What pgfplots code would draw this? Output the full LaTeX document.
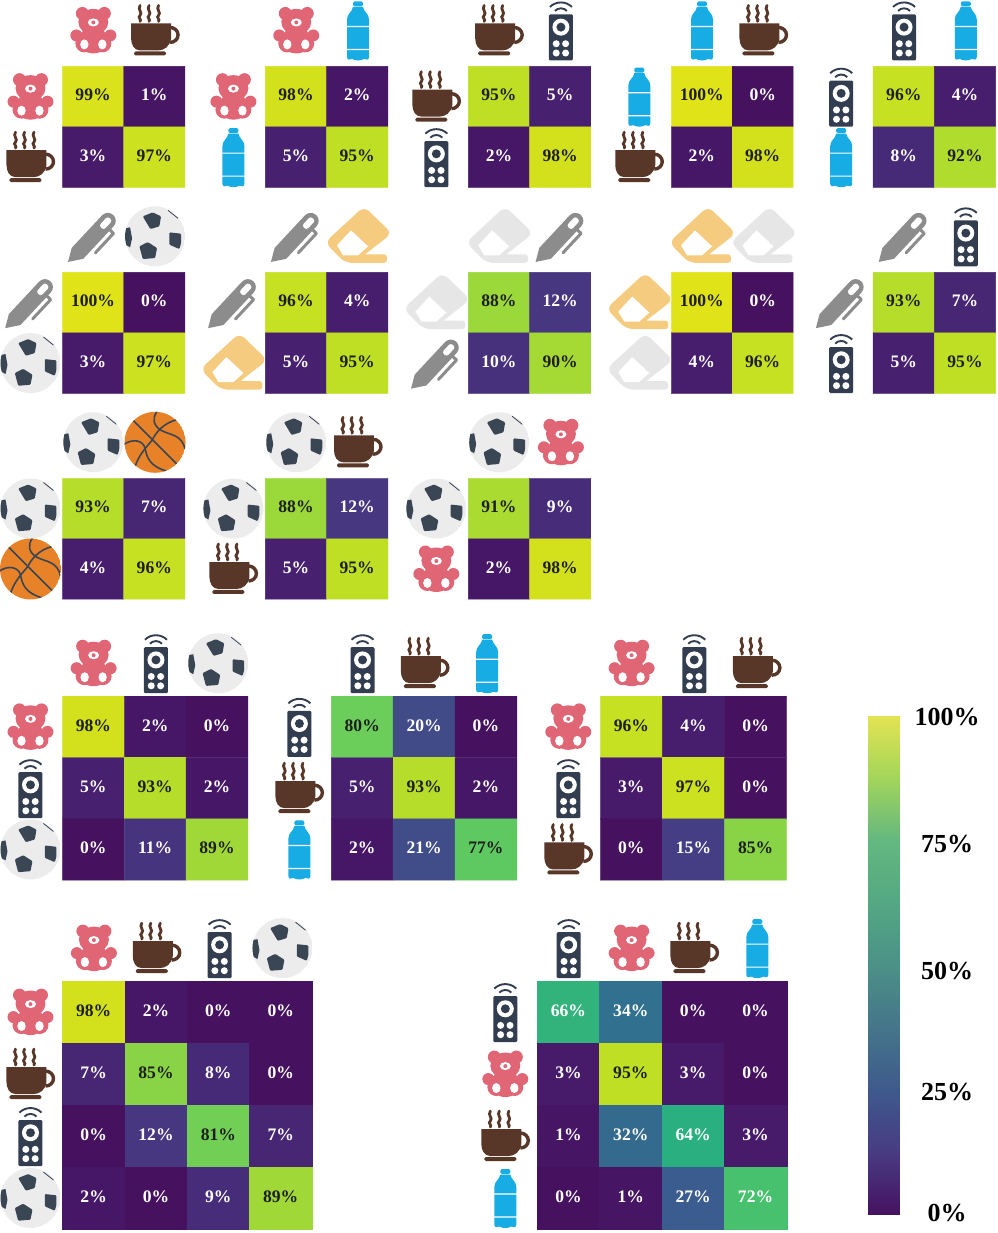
\documentclass[border=0pt]{standalone}
\usepackage{pgfplots}
\pgfplotsset{compat=1.18}
\usepackage{fontspec}
\setmainfont{Liberation Serif}

\definecolor{txtdark}{RGB}{30,30,30}
\definecolor{tedcol}{RGB}{224,102,118}
\definecolor{cupcol}{RGB}{88,54,40}
\definecolor{remcol}{RGB}{50,62,80}
\definecolor{botcol}{RGB}{24,172,228}
\definecolor{pencol}{RGB}{140,140,140}
\definecolor{ballcol}{RGB}{236,236,237}
\definecolor{patchcol}{RGB}{58,70,84}
\definecolor{bbcol}{RGB}{232,130,40}
\definecolor{ergray}{RGB}{230,230,230}
\definecolor{ertan}{RGB}{245,203,128}

\pgfplotsset{
  colormap={cells}{
    rgb255(0)=(70,18,96) rgb255(3)=(71,26,106) rgb255(12)=(71,55,129)
    rgb255(27)=(59,92,143) rgb255(34)=(49,112,142) rgb255(50)=(33,145,140)
    rgb255(64)=(41,175,128) rgb255(72)=(72,193,110) rgb255(80)=(108,206,90)
    rgb255(88)=(155,216,58) rgb255(95)=(191,223,36) rgb255(100)=(224,227,24)
  },
  colormap={bar}{
    rgb255(0)=(70,18,96) rgb255(12)=(72,58,130) rgb255(25)=(62,90,140)
    rgb255(50)=(75,145,135) rgb255(64)=(85,170,130) rgb255(75)=(99,183,127)
    rgb255(88)=(165,214,90) rgb255(100)=(227,227,82)
  },
}

% icons, drawn around the origin, 1pt = 1 pixel of the reference
\newcommand\icteddy{%
  \fill[tedcol] (-11,17) circle (6.5) (11,17) circle (6.5)
    (0,8.5) ellipse (15 and 13) (0,-10) ellipse (15 and 13)
    (-17,-5) circle (6) (17,-5) circle (6)
    (-9,-13) circle (9) (9,-13) circle (9);
  \fill[white] (0,8) ellipse (5.5 and 4)
    (-9,-14) ellipse (4.2 and 5) (9,-14) ellipse (4.2 and 5);
  \fill[tedcol] (0,8) circle (2);
}
\newcommand\iccup{%
  \draw[cupcol,line width=3.4] (15,3) arc (90:-90:8 and 7.5);
  \fill[cupcol] (-24,7) -- (16,7) -- (16,-8) .. controls (15,-16) and (9,-20) .. (3,-20)
    -- (-15,-20) .. controls (-21,-20) and (-24,-14) .. (-24,-8) -- cycle;
  \fill[cupcol,rounded corners=1.5] (-21,-21) rectangle (11,-25);
  \foreach \s in {-15,-6,3.5}{
    \draw[cupcol,line width=2.8,line cap=round] (\s,25) .. controls (\s-3,21) and (\s+3,18) .. (\s,15)
      .. controls (\s-3,13) and (\s+2,11) .. (\s,9);
  }
}
\newcommand\icremote{%
  \fill[remcol,rounded corners=1.2] (-12,16) rectangle (12,-30);
  \fill[white] (0,3.3) circle (8.5);
  \fill[remcol] (0,3.3) circle (4.5);
  \fill[white] (-4.7,-13.3) circle (3.5) (4.7,-13.3) circle (3.5)
    (-4.7,-22.6) circle (3.5) (4.7,-22.6) circle (3.5);
  \draw[remcol,line width=1.9] (-11,23.5) .. controls (-5,29.5) and (5,29.5) .. (11,23.5);
  \draw[remcol,line width=1.9] (-6,19.5) .. controls (-3,23) and (3,23) .. (6,19.5);
}
\newcommand\icbottle{%
  \fill[botcol,rounded corners=1.5] (-5,29) rectangle (5,24);
  \fill[botcol] (-5,23.5) .. controls (-6,18) and (-11,17) .. (-11,11) -- (-11,-26.5)
    .. controls (-11,-29.5) and (-8,-30) .. (-6,-28.5) .. controls (-3,-30.5) and (3,-30.5) .. (6,-28.5)
    .. controls (8,-30) and (11,-29.5) .. (11,-26.5) -- (11,11)
    .. controls (11,17) and (6,18) .. (5,23.5) -- cycle;
  \fill[white] (-11.5,4.6) rectangle (11.5,3.4) (-11.5,-18.4) rectangle (11.5,-19.6);
}
\newcommand\icpen{%
  \begin{scope}[rotate=47,shift={(-1,0)},scale=1.06]
    \draw[pencol,line width=3,line cap=round,line join=round] (16,-7) -- (16,-12) -- (-9,-12);
    \fill[pencol] (-33,1) -- (-21,-7.5) -- (21,-7.5) arc (-90:90:7.5) -- (-21,7.5) -- cycle;
    \fill[white,rounded corners=2.5] (12,-3) rectangle (24,3);
  \end{scope}
}
\newcommand\icball{%
  \begin{scope}
    \clip (0,0) circle (30);
    \fill[ballcol] (0,0) circle (30);
    \fill[patchcol,rounded corners=1] (-12.3,20) -- (-2.3,24) -- (6,20) -- (4.3,10) -- (-4.7,7.3) -- cycle;
    \fill[patchcol,rounded corners=1] (14.3,4) -- (26,2.7) -- (26,-6.7) -- (24.3,-12.7) -- (14.3,-8.3) -- cycle;
    \fill[patchcol,rounded corners=1] (-15.7,-10) -- (-7.3,-5.7) -- (2,-11.7) -- (0,-21.7) -- (-12.3,-22.7) -- cycle;
    \fill[patchcol] (-30,8) -- (-25,9) -- (-23,-2) -- (-25,-11) -- (-30,-8) -- cycle;
    \draw[patchcol,line width=0.8] (13,26) -- (23,18);
  \end{scope}
}
\newcommand\icbasket{%
  \begin{scope}
    \clip (0,0) circle (30.5);
    \fill[bbcol] (0,0) circle (30.5);
    \begin{scope}[patchcol,line width=1.6]
      \draw (-22,22) -- (22,-22);
      \draw (22,22.7) .. controls (8,19) and (1,10) .. (-3,2) .. controls (-10,-6) and (-19,-16) .. (-21,-29);
      \draw (-31,-2) .. controls (-22,4) and (-12,2) .. (-10,-6) .. controls (-8,-16) and (-5,-24) .. (12,-29);
      \draw (2,31) .. controls (-3,24) and (-2,17) .. (6,12) .. controls (15,7) and (27,8) .. (30,-7);
    \end{scope}
  \end{scope}
}
\newcommand\iceraser[1]{%
  \fill[#1] (7,-18) [rounded corners=3] -- (29,-18) -- (29,-26.5) [rounded corners=7]
    -- (-13,-26.5) -- (-33,-6) -- (6,30) -- (34,3) [rounded corners=1] -- cycle;
  \fill[white] (-7,6) -- (10,-10) -- (0,-19) -- (-15,-19) -- (-21,-9) -- cycle;
}
\newcommand\icerasergray{\iceraser{ergray}}
\newcommand\icerasertan{\iceraser{ertan}}

% #1 x, #2 y of the top left corner; #3 n; #4 width; #5 height; #6 top offset; #7 icons; #8 data
\newcommand\cm[8]{%
  \begin{axis}[
    at={(#1pt,-#2pt)}, anchor=north west, scale only axis,
    width=#4pt, height=#5pt, hide axis, clip=false,
    xmin=-0.5, xmax=#3-0.5, ymin=-0.5, ymax=#3-0.5, y dir=reverse,
    colormap name=cells, point meta min=0, point meta max=100,
    /pgf/number format/assume math mode=true,
    nodes near coords={\ifdim\pgfplotspointmetatransformed pt>740pt\color{txtdark}\else\color{white}\fi
      \pgfmathprintnumber{\pgfplotspointmeta}\%},
    every node near coord/.append style={anchor=center, yshift=1.5pt,
      font=\fontsize{17.6}{17.6}\selectfont\bfseries},
  ]
    \addplot[matrix plot*, mesh/cols=#3, point meta=explicit]
      table[row sep=\\, meta=c] {x y c\\ #8};
  \end{axis}
  \foreach \ic [count=\k from 0] in {#7}{
    \pgfmathsetmacro\tx{#1+(#4/#3+0.5)*(\k+0.5)}
    \pgfmathsetmacro\ty{-#2+#6}
    \pgfmathsetmacro\lx{#1-32}
    \pgfmathsetmacro\ly{-#2-#5/#3*(\k+0.5)}
    \begin{scope}[shift={(\tx,\ty)}]\csname ic\ic\endcsname\end{scope}
    \begin{scope}[shift={(\lx,\ly)}]\csname ic\ic\endcsname\end{scope}
  }%
}

\begin{document}
\begin{tikzpicture}[x=1pt,y=1pt]
  \path (0,0) rectangle (997,-1233);
  % two classes
  \cm{62}{66}{2}{122.5}{121}{36}{teddy,cup}{0 0 99\\1 0 1\\0 1 3\\1 1 97\\}
  \cm{265}{66}{2}{122.5}{121}{36}{teddy,bottle}{0 0 98\\1 0 2\\0 1 5\\1 1 95\\}
  \cm{468}{66}{2}{122.5}{121}{36}{cup,remote}{0 0 95\\1 0 5\\0 1 2\\1 1 98\\}
  \cm{671}{66}{2}{122}{121}{36}{bottle,cup}{0 0 100\\1 0 0\\0 1 2\\1 1 98\\}
  \cm{873}{66}{2}{122.5}{121}{36}{remote,bottle}{0 0 96\\1 0 4\\0 1 8\\1 1 92\\}

  \cm{62}{272}{2}{122.5}{121}{36}{pen,ball}{0 0 100\\1 0 0\\0 1 3\\1 1 97\\}
  \cm{265}{272}{2}{122.5}{121}{36}{pen,erasertan}{0 0 96\\1 0 4\\0 1 5\\1 1 95\\}
  \cm{468}{272}{2}{122.5}{121}{36}{erasergray,pen}{0 0 88\\1 0 12\\0 1 10\\1 1 90\\}
  \cm{671}{272}{2}{122}{121}{36}{erasertan,erasergray}{0 0 100\\1 0 0\\0 1 4\\1 1 96\\}
  \cm{873}{272}{2}{122.5}{121}{36}{pen,remote}{0 0 93\\1 0 7\\0 1 5\\1 1 95\\}

  \cm{62}{478}{2}{122.5}{121}{36}{ball,basket}{0 0 93\\1 0 7\\0 1 4\\1 1 96\\}
  \cm{265}{478}{2}{122.5}{121}{36}{ball,cup}{0 0 88\\1 0 12\\0 1 5\\1 1 95\\}
  \cm{468}{478}{2}{122.5}{121}{36}{ball,teddy}{0 0 91\\1 0 9\\0 1 2\\1 1 98\\}

  % three classes
  \cm{62}{696}{3}{185.5}{184}{33}{teddy,remote,ball}{0 0 98\\1 0 2\\2 0 0\\0 1 5\\1 1 93\\2 1 2\\0 2 0\\1 2 11\\2 2 89\\}
  \cm{331}{696}{3}{185.5}{184}{33}{remote,cup,bottle}{0 0 80\\1 0 20\\2 0 0\\0 1 5\\1 1 93\\2 1 2\\0 2 2\\1 2 21\\2 2 77\\}
  \cm{600}{696}{3}{186.5}{184}{33}{teddy,remote,cup}{0 0 96\\1 0 4\\2 0 0\\0 1 3\\1 1 97\\2 1 0\\0 2 0\\1 2 15\\2 2 85\\}

  % four classes
  \cm{62}{981}{4}{249.5}{248}{33}{teddy,cup,remote,ball}{0 0 98\\1 0 2\\2 0 0\\3 0 0\\0 1 7\\1 1 85\\2 1 8\\3 1 0\\0 2 0\\1 2 12\\2 2 81\\3 2 7\\0 3 2\\1 3 0\\2 3 9\\3 3 89\\}
  \cm{537}{981}{4}{249.5}{248}{33}{remote,teddy,cup,bottle}{0 0 66\\1 0 34\\2 0 0\\3 0 0\\0 1 3\\1 1 95\\2 1 3\\3 1 0\\0 2 1\\1 2 32\\2 2 64\\3 2 3\\0 3 0\\1 3 1\\2 3 27\\3 3 72\\}

  % colour scale
  \begin{axis}[
    at={(868pt,-716pt)}, anchor=north west, scale only axis,
    width=31pt, height=498pt, view={0}{90},
    xmin=0, xmax=1, ymin=0, ymax=100,
    colormap name=bar, point meta min=0, point meta max=100,
    axis line style={draw=none}, xtick=\empty, major tick length=0pt,
    ytick={0.2,24.5,48.8,74.3,99.8},
    yticklabels={0\%,25\%,50\%,75\%,100\%},
    yticklabel pos=right,
    yticklabel style={anchor=center, xshift=48pt,
      font=\fontsize{26}{26}\selectfont\bfseries, text=black},
  ]
    \addplot3[surf, shader=interp, mesh/cols=2, point meta=z] coordinates {
      (0,0,0) (1,0,0)

      (0,100,100) (1,100,100)
    };
  \end{axis}
\end{tikzpicture}
\end{document}
